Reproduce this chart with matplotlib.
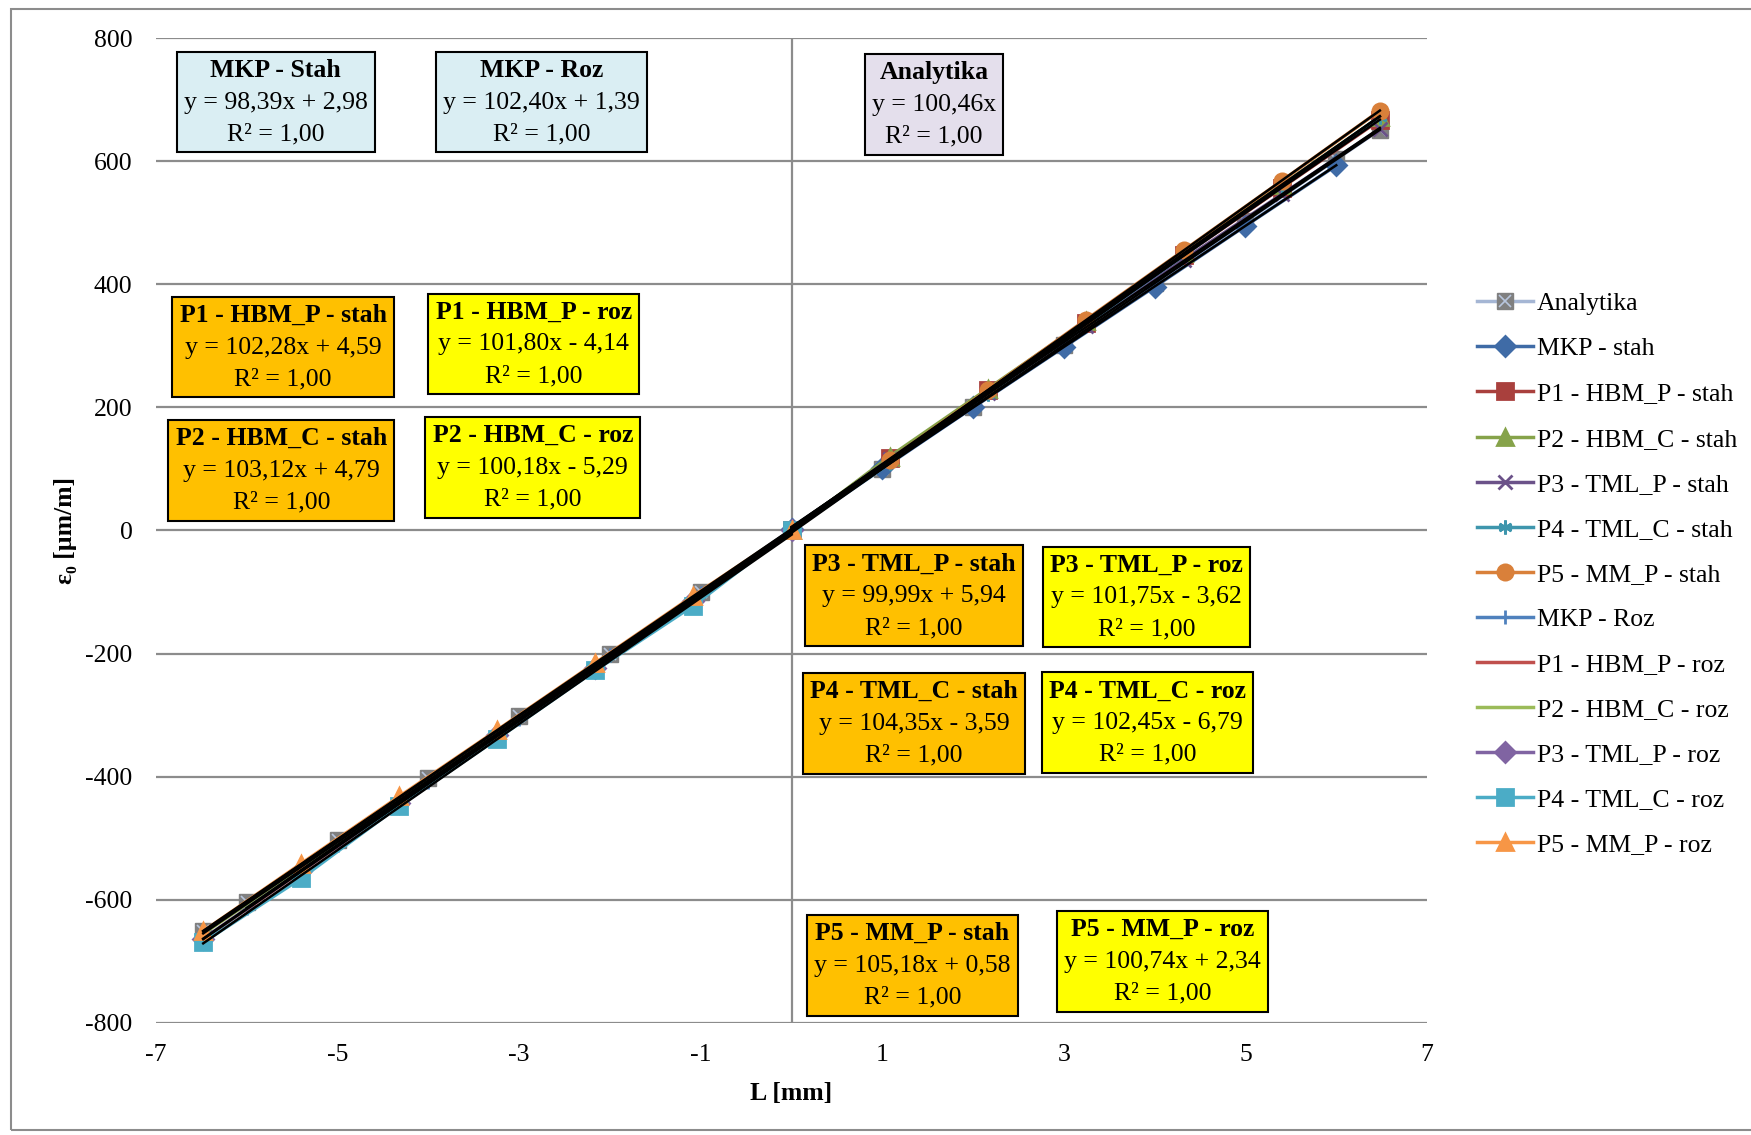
import matplotlib
matplotlib.use('Agg')
import matplotlib.pyplot as plt
from matplotlib.offsetbox import TextArea, VPacker, AnnotationBbox
from matplotlib.legend_handler import HandlerTuple
from matplotlib.patches import Rectangle

plt.rcParams['font.family'] = ['Liberation Serif', 'DejaVu Serif']
plt.rcParams['axes.unicode_minus'] = False

# --- data ---
x_analytika = [-6.48, -6, -5, -4, -3, -2, -1, 0, 1, 2, 3, 4, 5, 6, 6.48]
y_analytika = [-651, -603, -502, -402, -301, -201, -100, 0, 100, 201, 301, 402, 502, 603, 651]

x_mkp_stah = [0, 1, 2, 3, 4, 5, 6]
y_mkp_stah = [3, 101, 200, 298, 396, 495, 593]
x_mkp_roz = [-6, -5, -4, -3, -2, -1, 0]
y_mkp_roz = [-613, -511, -408, -306, -203, -101, 1]

x_stah = [0, 1.08, 2.16, 3.24, 4.32, 5.40, 6.48]
y_p1_stah = [0, 118, 228, 337, 447, 557, 667]
y_p2_stah = [0, 120, 230, 340, 451, 561, 672]
y_p3_stah = [0, 116, 223, 332, 440, 546, 652]
y_p4_stah = [0, 109, 222, 335, 447, 560, 672]
y_p5_stah = [0, 115, 228, 342, 455, 568, 682]

x_roz = [-6.48, -5.40, -4.32, -3.24, -2.16, -1.08, 0]
y_p1_roz = [-664, -554, -444, -334, -224, -114, 0]
y_p2_roz = [-655, -547, -438, -330, -222, -113, 0]
y_p3_roz = [-663, -553, -443, -333, -223, -114, 0]
y_p4_roz = [-669, -565, -447, -338, -227, -122, 0]
y_p5_roz = [-651, -541, -432, -324, -215, -106, 0]

labels = ['Analytika', 'MKP - stah', 'P1 - HBM_P - stah', 'P2 - HBM_C - stah',
          'P3 - TML_P - stah', 'P4 - TML_C - stah', 'P5 - MM_P - stah',
          'MKP - Roz', 'P1 - HBM_P - roz', 'P2 - HBM_C - roz',
          'P3 - TML_P - roz', 'P4 - TML_C - roz', 'P5 - MM_P - roz']
xs = [x_analytika, x_mkp_stah, x_stah, x_stah, x_stah, x_stah, x_stah,
      x_mkp_roz, x_roz, x_roz, x_roz, x_roz, x_roz]
ys = [y_analytika, y_mkp_stah, y_p1_stah, y_p2_stah, y_p3_stah, y_p4_stah, y_p5_stah,
      y_mkp_roz, y_p1_roz, y_p2_roz, y_p3_roz, y_p4_roz, y_p5_roz]

# trendline equations shown in the boxes
slopes = [100.46, 98.39, 102.28, 103.12, 99.99, 104.35, 105.18,
          102.40, 101.80, 100.18, 101.75, 102.45, 100.74]
intercepts = [None, 2.98, 4.59, 4.79, 5.94, -3.59, 0.58,
              1.39, -4.14, -5.29, -3.62, -6.79, 2.34]
box_titles = ['Analytika', 'MKP - Stah', 'P1 - HBM_P - stah', 'P2 - HBM_C - stah',
              'P3 - TML_P - stah', 'P4 - TML_C - stah', 'P5 - MM_P - stah',
              'MKP - Roz', 'P1 - HBM_P - roz', 'P2 - HBM_C - roz',
              'P3 - TML_P - roz', 'P4 - TML_C - roz', 'P5 - MM_P - roz']

colors = ['#A5B6D4', '#3F6BA6', '#A9403D', '#86A34A', '#6B5289', '#3E96AD', '#D9803A',
          '#4F81BD', '#C0504D', '#9BBB59', '#8064A2', '#4BACC6', '#F79646']
markers = ['s', 'D', 's', '^', 'x', (6, 2, 0), 'o', '+', None, None, 'D', 's', '^']

# box placement (data coords) and fill colours
box_pos = [(1.57, 692), (-5.68, 696), (-5.60, 298), (-5.62, 98), (1.35, -106),
           (1.35, -313), (1.33, -706), (-2.75, 696), (-2.84, 303), (-2.85, 103),
           (3.91, -108), (3.92, -312), (4.09, -700)]
box_fc = ['#E4DFEC', '#DAEEF3', '#FFC000', '#FFC000', '#FFC000', '#FFC000', '#FFC000',
          '#DAEEF3', '#FFFF00', '#FFFF00', '#FFFF00', '#FFFF00', '#FFFF00']

FS = 18.5

fig = plt.figure(figsize=(17.51, 11.35), dpi=100)
ax = fig.add_axes([0.0891, 0.0987, 0.7259, 0.8678])

handles = []
for i, (x, y) in enumerate(zip(xs, ys)):
    m = markers[i]
    if i == 0:
        ln, = ax.plot(x, y, color=colors[i], lw=2.5, marker='s', ms=11,
                      mfc='#808080', mec='#808080', zorder=3)
        mx, = ax.plot(x, y, ls='none', marker='x', ms=9, mew=1.2,
                      color='#B8C6DE', zorder=3)
        handles.append((ln, mx))
        continue
    kw = dict(color=colors[i], lw=2.5, zorder=3)
    if m is not None:
        kw.update(marker=m, ms=11 if m in ('o', 's', '^') else 10,
                  mfc=colors[i], mec=colors[i], mew=2)
    ln, = ax.plot(x, y, **kw)
    handles.append(ln)

# linear trendlines
for i, (x, y) in enumerate(zip(xs, ys)):
    b = intercepts[i] or 0.0
    x0, x1 = min(x), max(x)
    ax.plot([x0, x1], [slopes[i] * x0 + b, slopes[i] * x1 + b],
            color='black', lw=1.8, zorder=4)


def eq_text(k, b):
    s = f'y = {k:.2f}x'
    if b is not None:
        s += f' {"+" if b >= 0 else "-"} {abs(b):.2f}'
    return s.replace('.', ',')


for i in range(len(box_titles)):
    box = VPacker(children=[
        TextArea(box_titles[i], textprops=dict(fontsize=FS, fontweight='bold')),
        TextArea(eq_text(slopes[i], intercepts[i]), textprops=dict(fontsize=FS)),
        TextArea('R² = 1,00', textprops=dict(fontsize=FS)),
    ], align='center', pad=0, sep=7)
    ab = AnnotationBbox(box, box_pos[i], xycoords='data', frameon=True,
                        box_alignment=(0.5, 0.5), pad=0.28, fontsize=FS,
                        bboxprops=dict(facecolor=box_fc[i], edgecolor='black', lw=1.5))
    ab.set_zorder(6)
    ax.add_artist(ab)

ax.set_xlim(-7, 7)
ax.set_ylim(-800, 800)
ax.set_xticks(range(-7, 8, 2))
ax.set_yticks(range(-800, 801, 200))
ax.yaxis.grid(True, color='#8C8C8C', lw=1.6)
ax.set_axisbelow(True)
ax.axvline(0, color='#8C8C8C', lw=1.6, zorder=1)
for s in ax.spines.values():
    s.set_visible(False)
ax.tick_params(axis='both', length=0, labelsize=FS)
ax.tick_params(axis='y', pad=17)
ax.tick_params(axis='x', pad=15)
ax.set_xlabel('L [mm]', fontsize=FS, fontweight='bold', labelpad=12)
ax.set_ylabel('ε₀ [µm/m]', fontsize=FS, fontweight='bold', labelpad=6)

ax.legend(handles, labels, loc='center left', bbox_to_anchor=(0.836, 0.494),
          bbox_transform=fig.transFigure, frameon=False, fontsize=FS,
          handlelength=2.2, handletextpad=0.15, labelspacing=0.86,
          borderpad=0, handler_map={tuple: HandlerTuple(ndivide=1)})

fig.add_artist(Rectangle((0.0063, 0.004), 1.0, 0.988, transform=fig.transFigure,
                         fill=False, edgecolor='#8C8C8C', lw=1.5))

fig.savefig('out.png', dpi=100)
